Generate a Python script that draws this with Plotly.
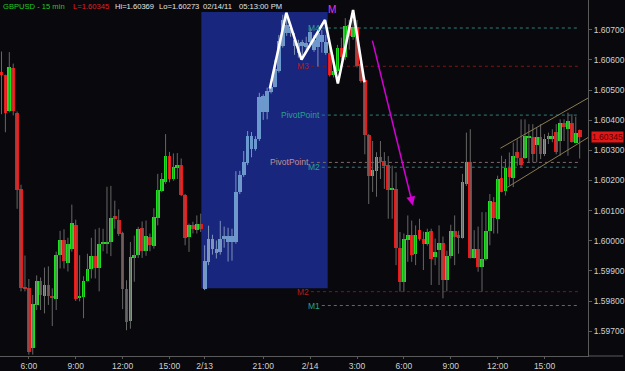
import plotly.graph_objects as go

# ---------------- data (15-min GBPUSD bars, index = bar number) ----------------
opens = [1.60560,1.60549,1.60429,1.60572,1.60425,1.60172,1.59844,1.59842,1.59644,1.59786,
         1.59868,1.59818,1.59852,1.59816,1.59807,1.59952,1.60001,1.59927,1.59972,1.60051,
         1.59809,1.59813,1.59868,1.59906,1.59951,1.59908,1.59990,1.59992,1.59996,1.60082,
         1.60069,1.60027,1.59839,1.59734,1.59944,1.59952,1.60042,1.59965,1.60013,1.59983,
         1.60076,1.60166,1.60194,1.60282,1.60205,1.60241,1.60251,1.60152,1.60014,1.60051,
         1.60037,1.60057,
         1.59839,1.59928,1.60007,1.59974,1.59963,1.60005,1.60016,1.59996,1.59997,1.60161,
         1.60218,1.60257,1.60347,1.60304,1.60339,1.60479,1.60427,1.60493,1.60511,1.60562,
         1.60645,1.60717,1.60706,1.60667,1.60657,1.60645,1.60657,1.60660,1.60667,1.60644,
         1.60683,1.60660,
         1.60623,1.60551,1.60562,1.60640,1.60610,1.60717,1.60676,1.60711,1.60585,1.60535,
         1.60350,1.60216,1.60232,1.60277,1.60265,1.60251,1.60170,1.60172,1.59976,1.59864,
         1.60001,1.60020,1.59957,1.60035,1.60005,1.59990,1.60031,1.59947,1.59968,1.59994,
         1.59869,1.59950,1.60031,1.60020,1.60010,1.60189,1.60260,1.59943,1.59974,1.59914,
         1.59941,1.60031,1.60130,1.60073,1.60207,1.60166,1.60240,1.60207,1.60293,1.60273,
         1.60273,1.60343,1.60343,1.60317,1.60343,1.60287,1.60337,1.60337,1.60360,1.60331,
         1.60392,1.60370,1.60392,1.60326,1.60366]
highs = [1.60628,1.60551,1.60626,1.60588,1.60429,1.60186,1.59951,1.59873,1.59820,1.59885,
         1.59878,1.59911,1.59915,1.59842,1.59964,1.60033,1.60038,1.60010,1.60120,1.60070,
         1.59952,1.59882,1.59957,1.60010,1.60038,1.60043,1.60040,1.60179,1.60182,1.60133,
         1.60104,1.60030,1.59869,1.59996,1.60017,1.60046,1.60064,1.60067,1.60024,1.60108,
         1.60222,1.60225,1.60354,1.60295,1.60290,1.60291,1.60273,1.60155,1.60057,1.60063,
         1.60084,1.60090,
         1.59985,1.60050,1.60020,1.60001,1.60066,1.60047,1.60043,1.60040,1.60231,1.60232,
         1.60298,1.60364,1.60361,1.60347,1.60491,1.60486,1.60508,1.60518,1.60601,1.60683,
         1.60750,1.60740,1.60717,1.60690,1.60667,1.60667,1.60677,1.60707,1.60683,1.60693,
         1.60700,1.60683,
         1.60650,1.60617,1.60650,1.60674,1.60739,1.60733,1.60733,1.60733,1.60594,1.60542,
         1.60354,1.60331,1.60294,1.60331,1.60294,1.60281,1.60249,1.60227,1.60029,1.60024,
         1.60084,1.60067,1.60051,1.60073,1.60030,1.60040,1.60040,1.60007,1.60051,1.60014,
         1.59967,1.60053,1.60084,1.60033,1.60222,1.60359,1.60370,1.60035,1.60047,1.60095,
         1.60095,1.60155,1.60145,1.60216,1.60282,1.60271,1.60293,1.60326,1.60337,1.60403,
         1.60403,1.60387,1.60387,1.60377,1.60387,1.60354,1.60359,1.60370,1.60387,1.60403,
         1.60403,1.60425,1.60420,1.60412,1.60369]
lows = [1.60420,1.60360,1.60426,1.60416,1.60106,1.59832,1.59832,1.59622,1.59622,1.59770,
        1.59770,1.59759,1.59787,1.59717,1.59770,1.59908,1.59908,1.59898,1.59964,1.59800,
        1.59799,1.59743,1.59865,1.59875,1.59875,1.59832,1.59965,1.59957,1.59949,1.60040,
        1.60016,1.59773,1.59703,1.59708,1.59864,1.59943,1.59943,1.59950,1.59965,1.59974,
        1.60051,1.60161,1.60189,1.60194,1.60199,1.60205,1.60148,1.59985,1.59963,1.60024,
        1.60024,1.60029,
        1.59836,1.59919,1.59954,1.59941,1.59954,1.59977,1.59931,1.59934,1.59990,1.60155,
        1.60212,1.60251,1.60277,1.60299,1.60331,1.60401,1.60403,1.60489,1.60509,1.60558,
        1.60641,1.60680,1.60677,1.60617,1.60608,1.60611,1.60634,1.60650,1.60627,1.60578,
        1.60624,1.60617,
        1.60545,1.60542,1.60558,1.60601,1.60599,1.60634,1.60667,1.60575,1.60525,1.60287,
        1.60122,1.60162,1.60146,1.60205,1.60172,1.60073,1.60073,1.59919,1.59831,1.59831,
        1.59930,1.59930,1.59919,1.60000,1.59903,1.59984,1.59853,1.59919,1.59853,1.59809,
        1.59832,1.59941,1.59919,1.59957,1.60007,1.60182,1.59941,1.59941,1.59897,1.59831,
        1.59934,1.59985,1.60024,1.60024,1.60161,1.60150,1.60183,1.60178,1.60249,1.60244,
        1.60271,1.60260,1.60260,1.60260,1.60271,1.60281,1.60321,1.60327,1.60287,1.60282,
        1.60331,1.60282,1.60326,1.60326,1.60273]
closes = [1.60549,1.60425,1.60575,1.60429,1.60170,1.59842,1.59840,1.59631,1.59790,1.59868,
          1.59819,1.59853,1.59816,1.59809,1.59952,1.60001,1.59932,1.59988,1.60060,1.59807,
          1.59816,1.59868,1.59905,1.59951,1.59908,1.59990,1.59994,1.59996,1.60076,1.60071,
          1.60024,1.59839,1.59732,1.59945,1.59954,1.60038,1.59965,1.60016,1.59985,1.60080,
          1.60169,1.60204,1.60282,1.60204,1.60244,1.60251,1.60152,1.60009,1.60051,1.60038,
          1.60057,1.60040,
          1.59934,1.60007,1.59971,1.59961,1.60007,1.60016,1.59997,1.60016,1.60162,1.60218,
          1.60261,1.60346,1.60304,1.60339,1.60478,1.60427,1.60496,1.60511,1.60570,1.60664,
          1.60733,1.60691,1.60689,1.60645,1.60624,1.60658,1.60644,1.60693,1.60634,1.60690,
          1.60660,1.60624,
          1.60551,1.60565,1.60640,1.60610,1.60713,1.60678,1.60708,1.60579,1.60529,1.60350,
          1.60216,1.60236,1.60277,1.60263,1.60249,1.60170,1.60174,1.59976,1.59864,1.60005,
          1.60020,1.59954,1.60020,1.60005,1.59988,1.60029,1.59941,1.59963,1.59994,1.59869,
          1.59950,1.60031,1.60013,1.60010,1.60194,1.60260,1.59943,1.59974,1.59914,1.59941,
          1.60031,1.60133,1.60075,1.60205,1.60163,1.60240,1.60211,1.60282,1.60273,1.60251,
          1.60348,1.60348,1.60287,1.60343,1.60287,1.60337,1.60348,1.60348,1.60295,1.60392,
          1.60376,1.60397,1.60328,1.60357,1.60345]
bars = list(range(len(closes)))
highlight_first, highlight_last = 52, 83

tick_bars = [7, 19, 31, 43, 52, 67, 79, 91, 103, 115, 127, 139]
tick_text = ["6:00", "9:00", "12:00", "15:00", "2/13", "21:00", "2/14",
             "3:00", "6:00", "9:00", "12:00", "15:00"]
price_ticks = [1.597, 1.598, 1.599, 1.600, 1.601, 1.602, 1.603, 1.604, 1.605, 1.606, 1.607]

# pivot levels: (label, price, kind)
levels = [("M4", 1.60706, "teal"), ("M3", 1.60579, "red"), ("PivotPoint", 1.60417, "teal"),
          ("PivotPoint", 1.60260, "pink"), ("M2", 1.60244, "teal"),
          ("M2", 1.59831, "red"), ("M1", 1.59785, "teal")]

zig_bars = [68.7, 72.9, 76.8, 82.8, 86.1, 90.0, 92.9]
zig_prices = [1.60505, 1.60757, 1.60601, 1.60733, 1.60522, 1.60766, 1.60526]

arrow_from = (94.85, 1.60669)
arrow_to = (105.3, 1.60117)

chan_upper = [(127.7, 1.60307), (150.2, 1.60474)]
chan_lower = [(129.2, 1.60175), (150.2, 1.60343)]

last_price = 1.60345

# ---------------- styles ----------------
BG = "#09090d"
GREEN = "#1fe01f"
RED = "#e81818"
BLUE_C = "#6a9ad2"
FONT = "Liberation Sans, Arial, sans-serif"
level_colors = {"teal": ("#2a8080", "#2aa08e"), "red": ("#7a1818", "#b01c1c"),
                "pink": ("#806868", "#c09090")}

fig = go.Figure()

# wicks
def wick_xy(sel):
    xs, ys = [], []
    for i in sel:
        xs += [i, i, None]
        ys += [lows[i], highs[i], None]
    return xs, ys

normal = [i for i in bars if not (highlight_first <= i <= highlight_last)]
hl = [i for i in bars if highlight_first <= i <= highlight_last]
wx, wy = wick_xy(normal)
fig.add_trace(go.Scatter(x=wx, y=wy, mode="lines", line=dict(color="#666666", width=1),
                         hoverinfo="skip", showlegend=False))
wx, wy = wick_xy(hl)
fig.add_trace(go.Scatter(x=wx, y=wy, mode="lines", line=dict(color="#7f93b8", width=1),
                         hoverinfo="skip", showlegend=False))

# bodies
min_h = 0.00004
base, height, colors = [], [], []
for i in bars:
    o, c = opens[i], closes[i]
    lo, hi = min(o, c), max(o, c)
    h = hi - lo
    if h < min_h:
        mid = (hi + lo) / 2
        lo, h = mid - min_h / 2, min_h
    base.append(lo)
    height.append(h)
    if highlight_first <= i <= highlight_last:
        colors.append(BLUE_C)
    else:
        colors.append(GREEN if c >= o else RED)
fig.add_trace(go.Bar(x=bars, y=height, base=base, width=0.95,
                     marker=dict(color=colors, line=dict(width=0)),
                     hoverinfo="skip", showlegend=False))

# white zigzag
fig.add_trace(go.Scatter(x=zig_bars, y=zig_prices, mode="lines",
                         line=dict(color="white", width=2.6),
                         hoverinfo="skip", showlegend=False))

shapes = []
# highlighted session box
shapes.append(dict(type="rect", xref="x", yref="y", x0=highlight_first - 0.85,
                   x1=highlight_last + 0.5, y0=1.59842, y1=1.60759,
                   fillcolor="#18267e", line=dict(width=0), layer="below"))
annotations = []
for name, p, kind in levels:
    lc, tc = level_colors[kind]
    x_end_label = 82.0 if kind == "teal" else 79.2
    shapes.append(dict(type="line", xref="x", yref="y", x0=x_end_label, x1=147.6,
                       y0=p, y1=p, line=dict(color=lc, width=1, dash="dot"), layer="below"))
    annotations.append(dict(x=x_end_label, y=p, xref="x", yref="y", text=name,
                            showarrow=False, xanchor="right", yanchor="middle",
                            font=dict(family=FONT, size=8.5, color=tc)))

# channel lines
for (a, b) in (chan_upper, chan_lower):
    shapes.append(dict(type="line", xref="x", yref="y", x0=a[0], y0=a[1], x1=b[0], y1=b[1],
                       line=dict(color="#8a7a52", width=1), layer="above"))
# bottom axis line extension to the right edge
shapes.append(dict(type="line", xref="paper", yref="paper", x0=1, x1=1.06, y0=0, y1=0,
                   line=dict(color="#5a5a5a", width=1)))

# magenta arrow
annotations.append(dict(x=arrow_to[0], y=arrow_to[1], ax=arrow_from[0], ay=arrow_from[1],
                        xref="x", yref="y", axref="x", ayref="y", text="", showarrow=True,
                        arrowcolor="#d400d4", arrowwidth=1.5, arrowhead=2, arrowsize=1.2))
annotations.append(dict(x=84.7, y=1.60769, xref="x", yref="y", text="M", showarrow=False,
                        font=dict(family=FONT, size=10, color="#f030f0")))

# header
hdr_y = 1 - 6.8 / 358
for txt, px, col in [("GBPUSD - 15 min", 1.5, "#22c822"), ("L=1.60345", 71, "#e02020"),
                     ("Hi=1.60369", 113, "#e6e6e6"), ("Lo=1.60273", 158, "#e6e6e6"),
                     ("02/14/11", 202, "#e6e6e6"), ("05:13:00 PM", 238, "#e6e6e6")]:
    annotations.append(dict(x=px / 590, y=hdr_y, xref="paper", yref="paper", text=txt,
                            showarrow=False, xanchor="left", yanchor="middle",
                            font=dict(family=FONT, size=7.6, color=col)))

# last price tag
annotations.append(dict(x=593 / 590, y=last_price, xref="paper", yref="y",
                        text=f"{last_price:.5f}", showarrow=False, xanchor="left",
                        yanchor="middle", bgcolor="#e01818", borderpad=0,
                        font=dict(family=FONT, size=8.5, color="#5a0000")))

fig.update_layout(
    width=625, height=371, margin=dict(l=0, r=35, t=0, b=13),
    paper_bgcolor=BG, plot_bgcolor=BG, bargap=0, showlegend=False,
    shapes=shapes, annotations=annotations,
    xaxis=dict(range=[-0.383, 150.13], tickvals=tick_bars, ticktext=tick_text,
               showgrid=False, zeroline=False, showline=True, linecolor="#5a5a5a",
               linewidth=1, ticks="outside", ticklen=2, tickcolor="#5a5a5a",
               tickfont=dict(family=FONT, size=8.5, color="#d0d0d0"), fixedrange=True),
    yaxis=dict(range=[1.596175, 1.60799], side="right", tickvals=price_ticks,
               ticktext=[f"{v:.5f}" for v in price_ticks], showgrid=False, zeroline=False,
               showline=True, linecolor="#5a5a5a", linewidth=1, ticks="outside", ticklen=3,
               tickcolor="#5a5a5a", tickfont=dict(family=FONT, size=8.5, color="#d0d0d0"),
               fixedrange=True),
)

fig.write_html("out.html")
